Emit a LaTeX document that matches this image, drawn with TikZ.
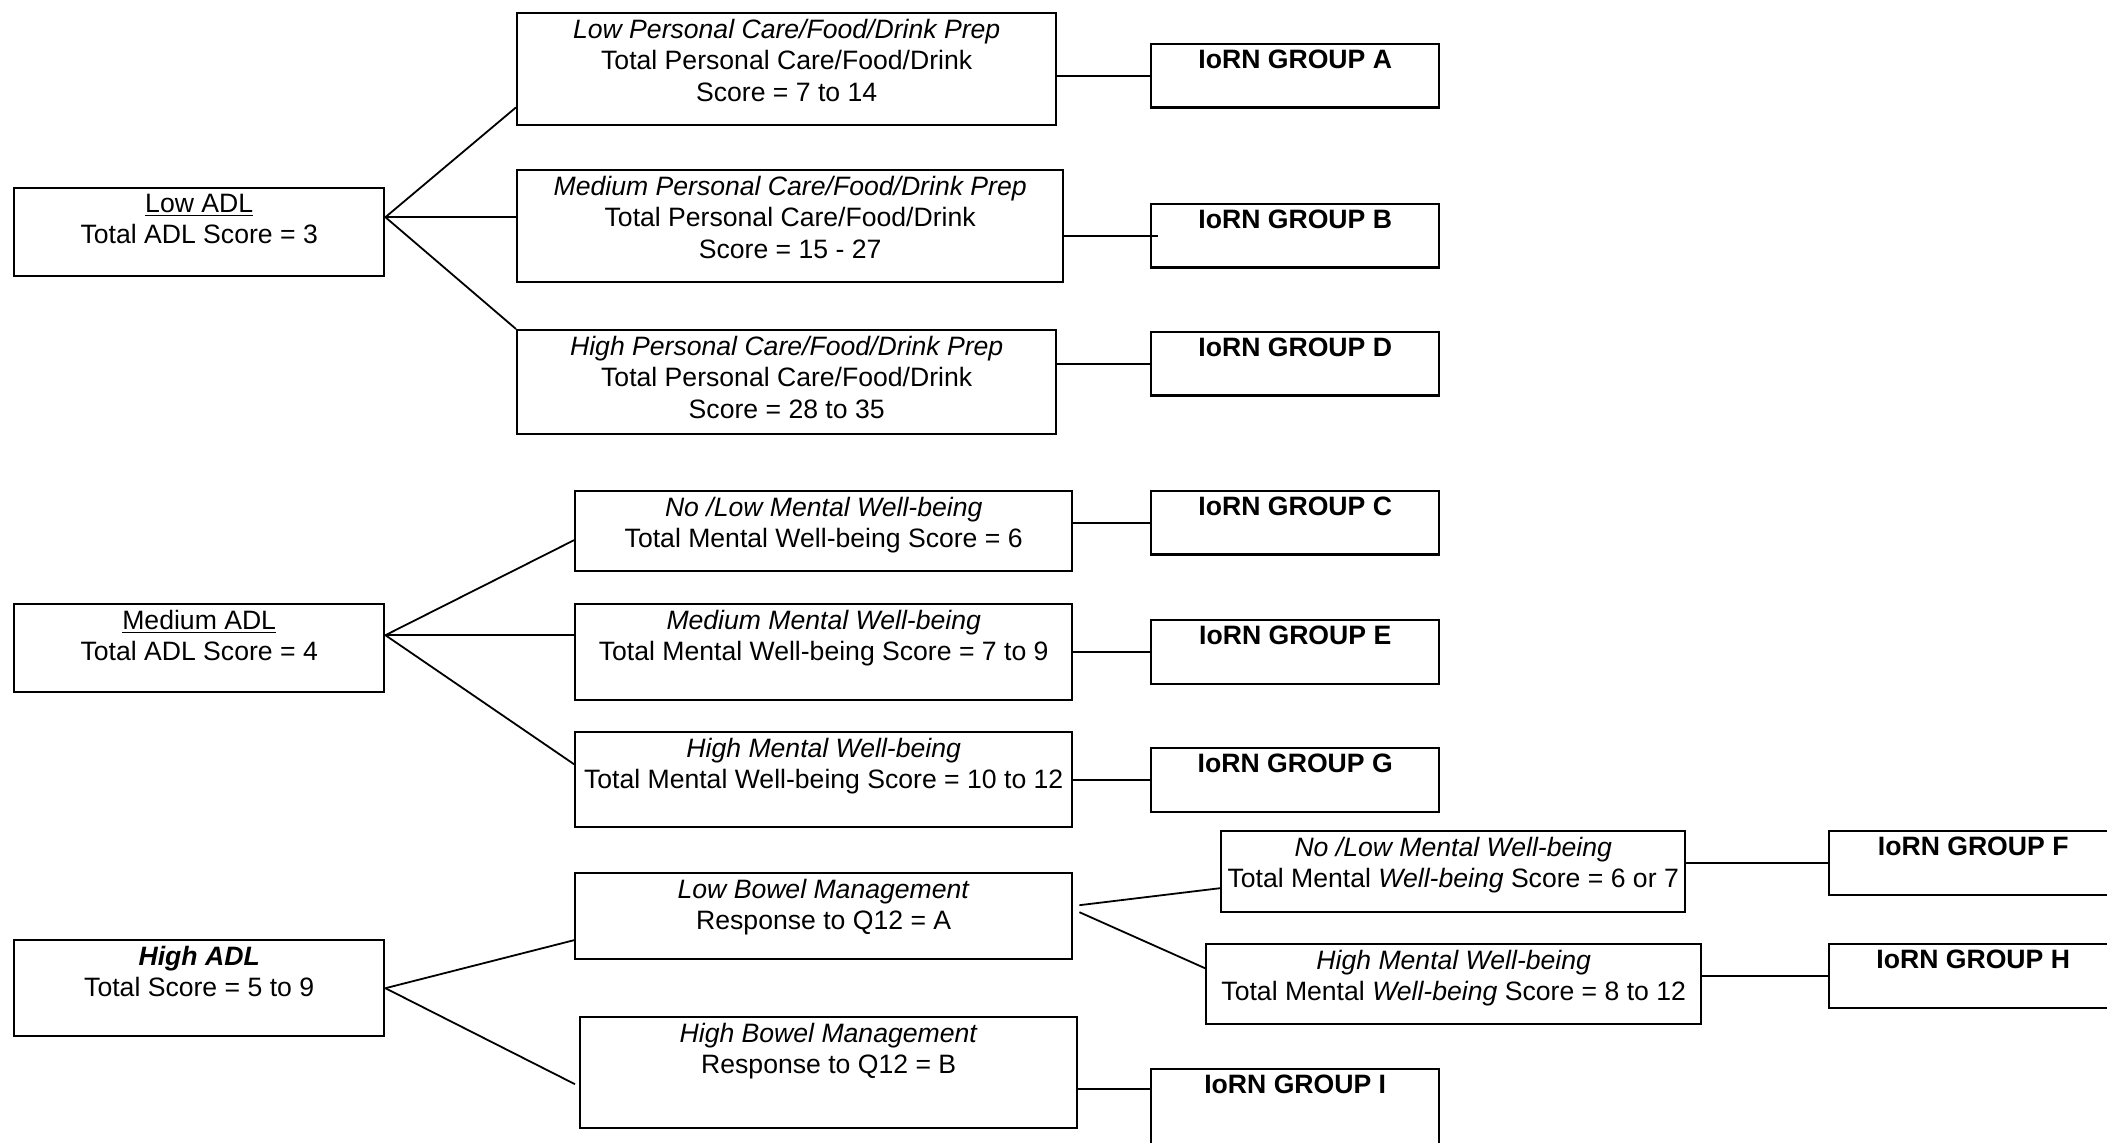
\documentclass[tikz,border=0pt]{standalone}
\usepackage{fontspec}
\setmainfont{Liberation Sans}

\begin{document}
\begin{tikzpicture}[x=0.5pt, y=-0.5pt,
    box/.style={draw, line width=1.2pt, anchor=north west, inner sep=0pt},
    grp/.style={box, minimum width=144pt, minimum height=31.75pt},
    txt/.style={anchor=north, inner sep=0pt, align=center, font=\fontsize{13.3pt}{15.6pt}\selectfont},
    gtxt/.style={txt, font=\fontsize{13.3pt}{15.6pt}\selectfont\bfseries},
    link/.style={line width=0.9pt}]

    \path[use as bounding box, clip] (0,0) rectangle (2107,1143);

    % low ADL
    \node[box, minimum width=185pt, minimum height=44pt] (ladl) at (13,187) {};
    \node[txt] (ladl-t) at ([yshift=-3.5pt]ladl.north) {\underline{Low ADL}\\Total ADL Score = 3};

    \node[box, minimum width=269.5pt, minimum height=56pt] (lpc) at (516,12) {};
    \node[txt] (lpc-t) at ([yshift=-3.5pt]lpc.north) {\textit{Low Personal Care/Food/Drink Prep}\\Total Personal Care/Food/Drink\\Score = 7 to 14};
    \node[box, minimum width=273pt, minimum height=56pt] (mpc) at (516,169) {};
    \node[txt] (mpc-t) at ([yshift=-3.5pt]mpc.north) {\textit{Medium Personal Care/Food/Drink Prep}\\Total Personal Care/Food/Drink\\Score = 15 - 27};
    \node[box, minimum width=269.5pt, minimum height=52pt] (hpc) at (516,329) {};
    \node[txt] (hpc-t) at ([yshift=-3.5pt]hpc.north) {\textit{High Personal Care/Food/Drink Prep}\\Total Personal Care/Food/Drink\\Score = 28 to 35};

    \node[grp] (ga) at (1150,43) {};
    \node[gtxt] (ga-t) at ([yshift=-3.5pt]ga.north) {IoRN GROUP A};
    \node[grp] (gb) at (1150,203) {};
    \node[gtxt] (gb-t) at ([yshift=-3.5pt]gb.north) {IoRN GROUP B};
    \node[grp] (gd) at (1150,331) {};
    \node[gtxt] (gd-t) at ([yshift=-3.5pt]gd.north) {IoRN GROUP D};

    \coordinate (ladl-o) at ([yshift=7.5pt]ladl.east);
    \draw[link] (ladl-o) -- ([yshift=9.5pt]lpc.south west);
    \draw[link] (ladl-o) -- (ladl-o -| mpc.west);
    \draw[link] (ladl-o) -- (hpc.north west);

    \draw[link] (lpc.east |- ga.west) -- (ga.west);
    \draw[link] (mpc.east |- gb.west) -- ([xshift=4pt]gb.west);
    \draw[link] (hpc.east |- gd.west) -- (gd.west);

    % medium ADL
    \node[box, minimum width=185pt, minimum height=44pt] (madl) at (13,603) {};
    \node[txt] (madl-t) at ([yshift=-3.5pt]madl.north) {\underline{Medium ADL}\\Total ADL Score = 4};

    \node[box, minimum width=248.5pt, minimum height=40pt] (nmw) at (574,490) {};
    \node[txt] (nmw-t) at ([yshift=-3.5pt]nmw.north) {\textit{No /Low Mental Well-being}\\Total Mental Well-being Score = 6};
    \node[box, minimum width=248.5pt, minimum height=48pt] (mmw) at (574,603) {};
    \node[txt] (mmw-t) at ([yshift=-3.5pt]mmw.north) {\textit{Medium Mental Well-being}\\Total Mental Well-being Score = 7 to 9};
    \node[box, minimum width=248.5pt, minimum height=47.5pt] (hmw) at (574,731) {};
    \node[txt] (hmw-t) at ([yshift=-3.5pt]hmw.north) {\textit{High Mental Well-being}\\Total Mental Well-being Score = 10 to 12};

    \node[grp] (gc) at (1150,490) {};
    \node[gtxt] (gc-t) at ([yshift=-3.5pt]gc.north) {IoRN GROUP C};
    \node[grp] (ge) at (1150,619) {};
    \node[gtxt] (ge-t) at ([yshift=-3.5pt]ge.north) {IoRN GROUP E};
    \node[grp] (gg) at (1150,747) {};
    \node[gtxt] (gg-t) at ([yshift=-3.5pt]gg.north) {IoRN GROUP G};

    \coordinate (madl-o) at ([yshift=6.5pt]madl.east);
    \draw[link] (madl-o) -- ([yshift=-4.5pt]nmw.west);
    \draw[link] (madl-o) -- (madl-o -| mmw.west);
    \draw[link] (madl-o) -- ([yshift=7.75pt]hmw.west);

    \draw[link] (nmw.east |- gc.west) -- (gc.west);
    \draw[link] (mmw.east |- ge.west) -- (ge.west);
    \draw[link] (hmw.east |- gg.west) -- (gg.west);

    % high ADL
    \node[box, minimum width=185pt, minimum height=48pt] (hadl) at (13,939) {};
    \node[txt] (hadl-t) at ([yshift=-3.5pt]hadl.north) {\textbf{\textit{High ADL}}\\Total Score = 5 to 9};

    \node[box, minimum width=248.5pt, minimum height=43pt] (lbm) at (574,872) {};
    \node[txt] (lbm-t) at ([yshift=-3.5pt]lbm.north) {\textit{Low Bowel Management}\\Response to Q12 = A};
    \node[box, minimum width=248.5pt, minimum height=55.5pt] (hbm) at (579,1016) {};
    \node[txt] (hbm-t) at ([yshift=-3.5pt]hbm.north) {\textit{High Bowel Management}\\Response to Q12 = B};

    \node[box, minimum width=232pt, minimum height=40.5pt] (nmw2) at (1220,830) {};
    \node[txt] (nmw2-t) at ([yshift=-3.5pt]nmw2.north) {\textit{No /Low Mental Well-being}\\Total Mental \textit{Well-being} Score = 6 or 7};
    \node[box, minimum width=247.5pt, minimum height=40pt] (hmw2) at (1205,943) {};
    \node[txt] (hmw2-t) at ([yshift=-3.5pt]hmw2.north) {\textit{High Mental Well-being}\\Total Mental \textit{Well-being} Score = 8 to 12};

    \node[grp] (gf) at (1828,830) {};
    \node[gtxt] (gf-t) at ([yshift=-3.5pt]gf.north) {IoRN GROUP F};
    \node[grp] (gh) at (1828,943) {};
    \node[gtxt] (gh-t) at ([yshift=-3.5pt]gh.north) {IoRN GROUP H};
    \node[grp, minimum height=50pt] (gi) at (1150,1068) {};
    \node[gtxt] (gi-t) at ([yshift=-3.5pt]gi.north) {IoRN GROUP I};

    \draw[link] (hadl.east) -- ([yshift=-12pt]lbm.west);
    \draw[link] (hadl.east) -- ([xshift=-2pt,yshift=-5.75pt]hbm.west);

    \draw[link] ([xshift=3pt,yshift=5.5pt]lbm.east) -- ([yshift=-8.25pt]nmw2.west);
    \draw[link] ([xshift=3pt,yshift=2pt]lbm.east) -- ([yshift=8pt]hmw2.west);

    \draw[link] (nmw2.east |- gf.west) -- (gf.west);
    \draw[link] (hmw2.east |- gh.west) -- (gh.west);
    \coordinate (gi-in) at ([yshift=-10.5pt]gi.north west);
    \draw[link] (hbm.east |- gi-in) -- (gi-in);

\end{tikzpicture}
\end{document}
